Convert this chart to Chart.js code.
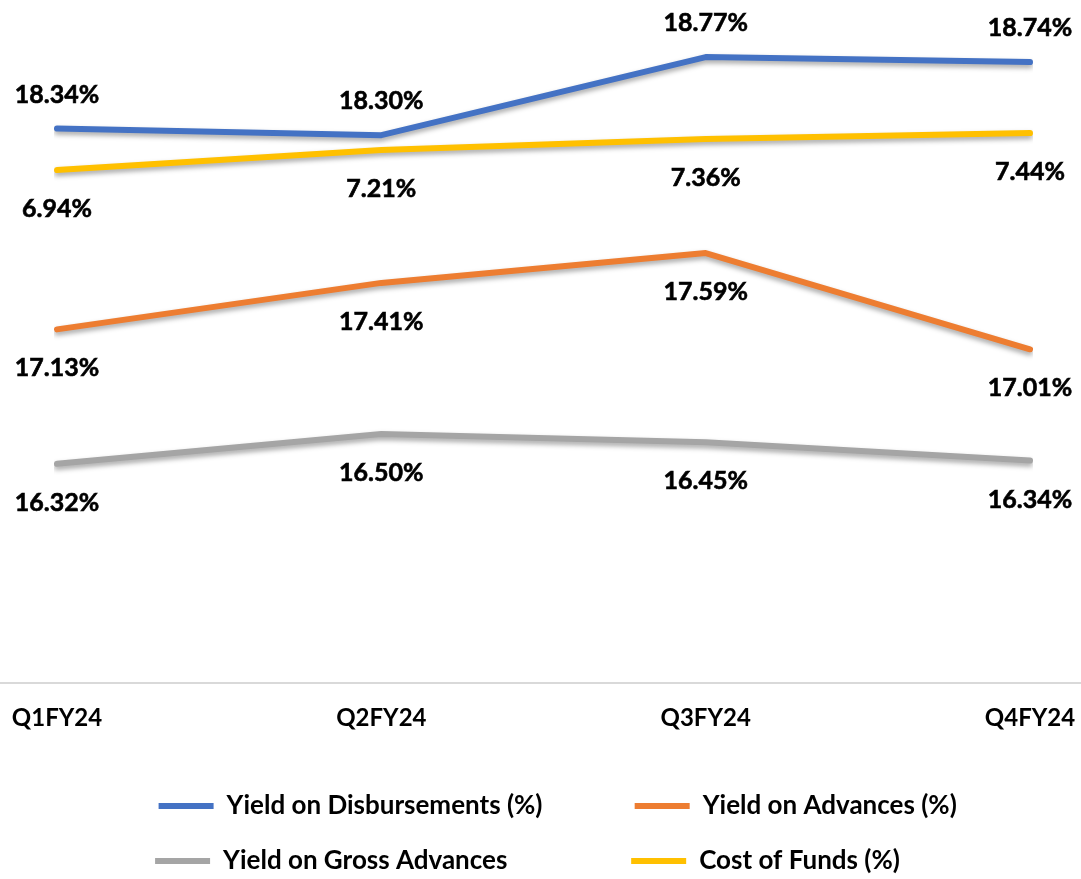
<!DOCTYPE html>
<html>
<head>
<meta charset="utf-8">
<script src="https://cdn.jsdelivr.net/npm/chart.js@4/dist/chart.umd.min.js"></script>
<style>
  html, body { margin: 0; padding: 0; background: #fff; }
  #wrap { width: 1081px; height: 879px; }
</style>
</head>
<body>
<div id="wrap"><canvas id="yieldChart"></canvas></div>
<script>
const quarters = ["Q1FY24", "Q2FY24", "Q3FY24", "Q4FY24"];
const yieldDisbursements = [18.34, 18.30, 18.77, 18.74];
const yieldAdvances = [17.13, 17.41, 17.59, 17.01];
const yieldGrossAdvances = [16.32, 16.50, 16.45, 16.34];
const costOfFunds = [6.94, 7.21, 7.36, 7.44];

const FONT = "Lato, 'Open Sans', sans-serif";
const LEGEND_FONT = { family: FONT, size: 26, weight: "bold" };
// legend text widths so the two legend columns line up
const legendTextWidth = [383, 302];

// shadow under each line, like the office chart
const lineShadow = {
  id: "lineShadow",
  beforeDatasetDraw(chart) {
    const ctx = chart.ctx;
    ctx.save();
    ctx.shadowColor = "rgba(0,0,0,0.35)";
    ctx.shadowBlur = 5;
    ctx.shadowOffsetY = 3;
  },
  afterDatasetDraw(chart) {
    chart.ctx.restore();
  }
};

// value labels above / below points
const valueLabels = {
  id: "valueLabels",
  afterDatasetsDraw(chart) {
    const ctx = chart.ctx;
    ctx.save();
    ctx.font = "bold 25px " + FONT;
    ctx.fillStyle = "#000";
    ctx.strokeStyle = "#000";
    ctx.lineWidth = 0.6;
    ctx.textAlign = "center";
    ctx.textBaseline = "middle";
    chart.data.datasets.forEach((ds, i) => {
      const meta = chart.getDatasetMeta(i);
      meta.data.forEach((pt, j) => {
        const dy = ds.labelAbove ? -34 : 39;
        const txt = ds.data[j].toFixed(2) + "%";
        ctx.fillText(txt, pt.x, pt.y + dy);
        ctx.strokeText(txt, pt.x, pt.y + dy);
      });
    });
    ctx.restore();
  }
};

// grey baseline running the full width
const baseLine = {
  id: "baseLine",
  beforeDatasetsDraw(chart) {
    const ctx = chart.ctx;
    const y = chart.chartArea.bottom;
    ctx.save();
    ctx.strokeStyle = "#D9D9D9";
    ctx.lineWidth = 2;
    ctx.beginPath();
    ctx.moveTo(0, y);
    ctx.lineTo(chart.width, y);
    ctx.stroke();
    ctx.restore();
  }
};

function lineSet(label, data, color, axis, above) {
  return {
    label: label,
    data: data,
    borderColor: color,
    backgroundColor: color,
    borderWidth: 6,
    borderCapStyle: "round",
    borderJoinStyle: "round",
    pointRadius: 0,
    tension: 0,
    yAxisID: axis,
    labelAbove: above
  };
}

function padText(ctx, text, width) {
  let t = text;
  while (ctx.measureText(t + " ").width <= width) t += " ";
  return t;
}

new Chart(document.getElementById("yieldChart"), {
  type: "line",
  data: {
    labels: quarters,
    datasets: [
      lineSet("Yield on Disbursements (%)", yieldDisbursements, "#4472C4", "y", true),
      lineSet("Yield on Advances (%)", yieldAdvances, "#ED7D31", "y", false),
      lineSet("Yield on Gross Advances", yieldGrossAdvances, "#A5A5A5", "y", false),
      lineSet("Cost of Funds (%)", costOfFunds, "#FFC000", "y2", false)
    ]
  },
  options: {
    responsive: true,
    maintainAspectRatio: false,
    animation: false,
    layout: { padding: { left: 57, right: 51, top: 0, bottom: -5 } },
    scales: {
      x: {
        offset: false,
        grid: { display: false, drawTicks: false },
        border: { display: false },
        ticks: { color: "#000", padding: 21, font: { family: FONT, size: 24, weight: "bold" } },
        afterFit(scale) {
          scale.height = 81;
          scale.paddingLeft = 0;
          scale.paddingRight = 0;
        }
      },
      y: { display: false, min: 15, max: 19.114 },
      y2: { display: false, min: 0, max: 9.24 }
    },
    plugins: {
      tooltip: { enabled: false },
      legend: {
        position: "bottom",
        align: "end",
        labels: {
          color: "#000",
          padding: 29,
          usePointStyle: true,
          pointStyle: "line",
          pointStyleWidth: 55,
          font: LEGEND_FONT,
          generateLabels(chart) {
            const items = Chart.defaults.plugins.legend.labels.generateLabels(chart);
            const ctx = chart.ctx;
            ctx.save();
            ctx.font = "bold 26px " + FONT;
            items.forEach((item, i) => {
              item.text = padText(ctx, item.text, legendTextWidth[i % 2]);
            });
            ctx.restore();
            return items;
          }
        }
      }
    }
  },
  plugins: [lineShadow, valueLabels, baseLine]
});
</script>
</body>
</html>
